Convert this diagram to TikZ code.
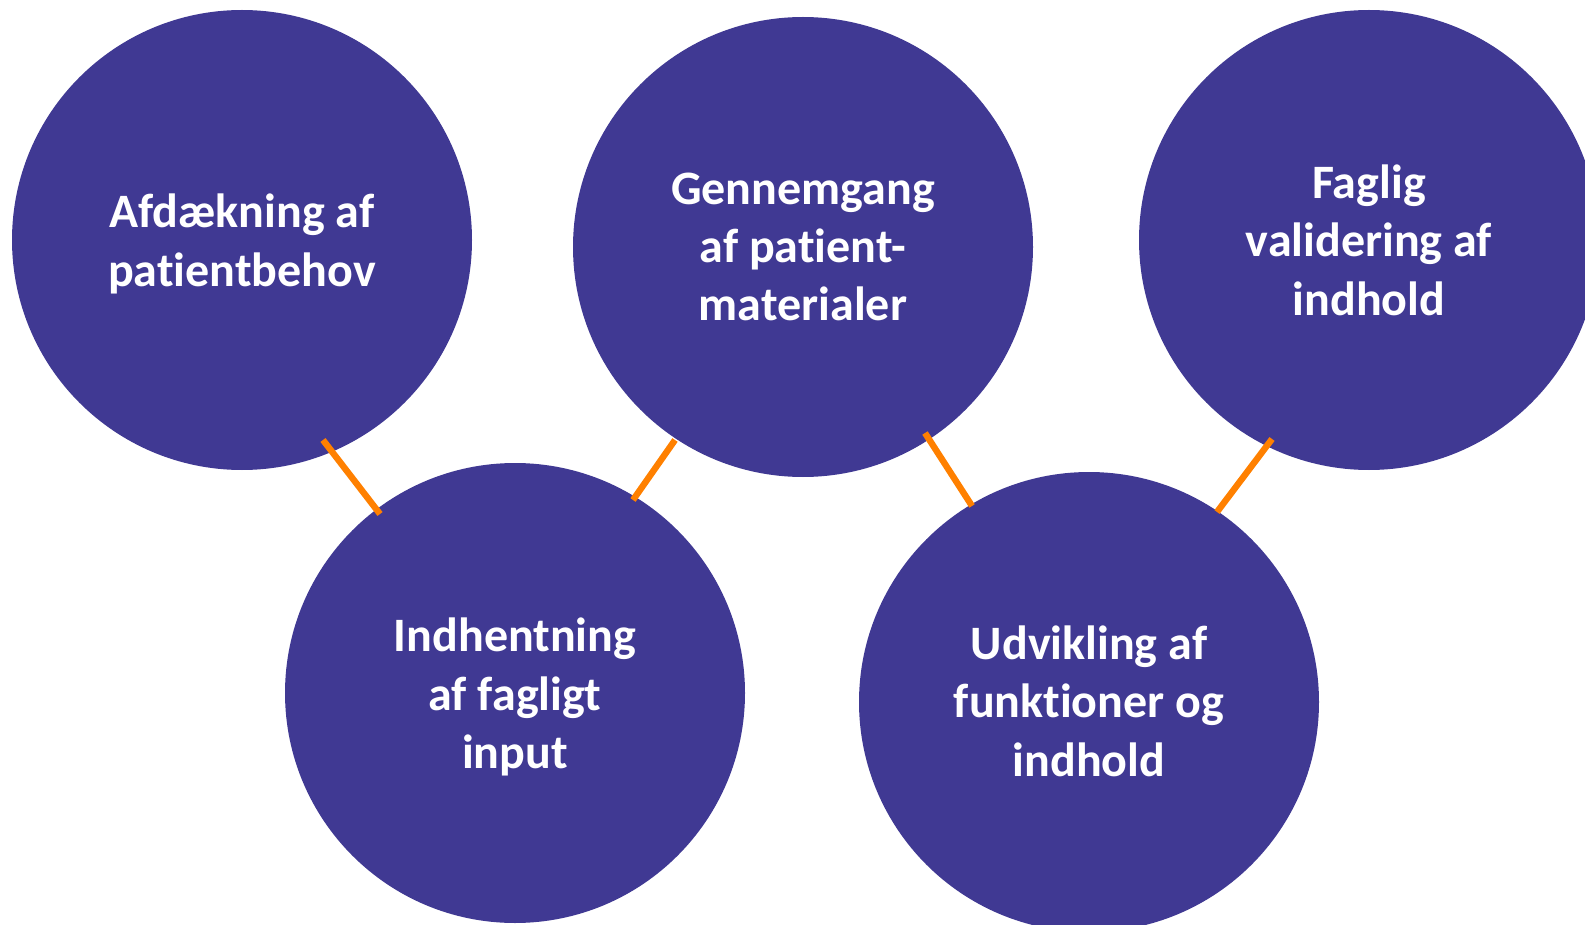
\documentclass[tikz,border=0pt]{standalone}
\usepackage{fontspec}
\setmainfont{Carlito}[Ligatures=NoCommon]
\definecolor{circfill}{RGB}{64,57,147}
\definecolor{linkorange}{RGB}{255,128,0}
\begin{document}
\begin{tikzpicture}[x=0.5pt,y=-0.5pt,
  stage/.style={circle,fill=circfill,draw=none,minimum size=230pt,inner sep=0pt},
  stagetext/.style={align=center,text=white,inner sep=0pt,
    font=\bfseries\fontsize{24}{29.2}\selectfont},
  link/.style={draw=linkorange,line width=3.2pt}]
\useasboundingbox (0,0) rectangle (1585,925);
\clip (0,0) rectangle (1585,925);
\node[stage] (c1) at (242,240) {};
\node[stage] (c2) at (803,247) {};
\node[stage] (c3) at (1369,240) {};
\node[stage] (c4) at (515,693) {};
\node[stage] (c5) at (1089,702) {};
\node[stagetext] (t1) at (242,244) {Afdækning af\\patientbehov};
\node[stagetext] (t2) at (803,247) {Gennemgang\\af patient-\\materialer};
\node[stagetext] (t3) at (1369,240) {Faglig\\validering af\\indhold};
\node[stagetext] (t4) at (515,697) {Indhentning\\af fagligt\\input};
\node[stagetext] (t5) at (1089,701) {Udvikling af\\funktioner og\\indhold};
\coordinate (l1a) at (323,440);
\coordinate (l1b) at (380,514);
\coordinate (l2a) at (675,440);
\coordinate (l2b) at (633,500);
\coordinate (l3a) at (925,433);
\coordinate (l3b) at (972,506);
\coordinate (l4a) at (1272,439);
\coordinate (l4b) at (1217,512);
\draw[link] (l1a) -- (l1b);
\draw[link] (l2a) -- (l2b);
\draw[link] (l3a) -- (l3b);
\draw[link] (l4a) -- (l4b);
\end{tikzpicture}
\end{document}
